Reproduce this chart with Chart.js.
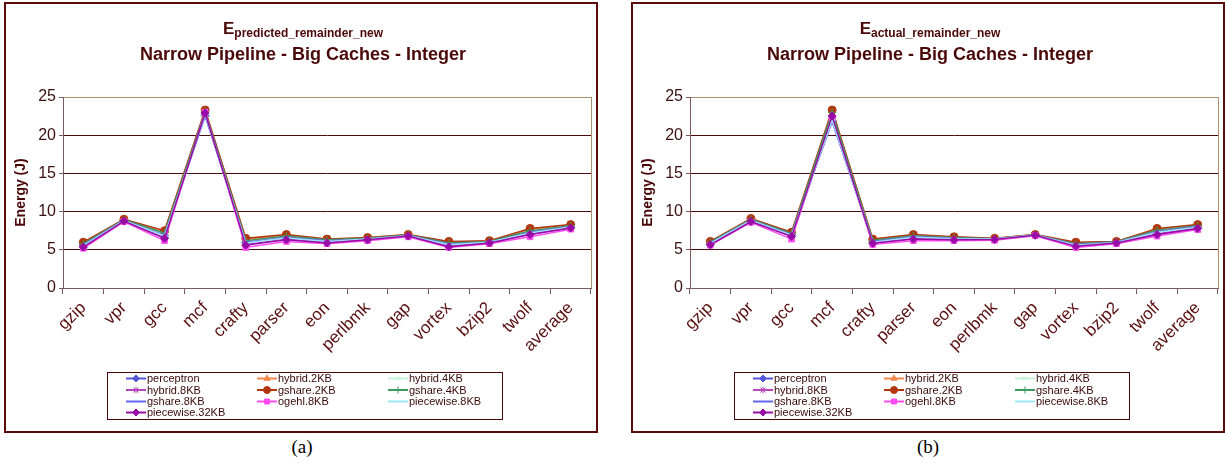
<!DOCTYPE html>
<html>
<head>
<meta charset="utf-8">
<script src="https://cdn.jsdelivr.net/npm/chart.js@4.4.1/dist/chart.umd.min.js"></script>
<style>
  body { margin: 0; background: #fff; width: 1225px; height: 465px; position: relative; overflow: hidden; }
  .panel { position: absolute; top: 2px; width: 590px; height: 427px; border: 2px solid #5a0c0c; }
  .panel canvas { display: block; }
  .cap { position: absolute; top: 436px; width: 100px; text-align: center; font: 19px "Liberation Serif", "Times New Roman", serif; color: #000; }
</style>
</head>
<body>
<div class="panel" style="left:4px"><canvas id="chartA" width="590" height="427"></canvas></div>
<div class="panel" style="left:631px"><canvas id="chartB" width="590" height="427"></canvas></div>
<div class="cap" style="left:252px">(a)</div>
<div class="cap" style="left:878px">(b)</div>
<script>
// benchmarks on the x axis
const categories = ['gzip','vpr','gcc','mcf','crafty','parser','eon','perlbmk','gap','vortex','bzip2','twolf','average'];
const seriesNames = ['perceptron','hybrid.2KB','hybrid.4KB','hybrid.8KB','gshare.2KB','gshare.4KB','gshare.8KB','ogehl.8KB','piecewise.8KB','piecewise.32KB'];
const seriesColors = ['#5656d8','#f4874c','#c4f2d6','#b646bc','#b3360e','#3f9a5e','#6666ee','#ff4cf2','#9ee6f6','#980ca6'];
const seriesMarkers = ['rectRot','triangle','crossRot','star','circle','cross','dash','rect','dash','rectRot'];
const yTicks = [0, 5, 10, 15, 20, 25];

// (a) E predicted_remainder_new, one row per series (same order as seriesNames)
const predicted = [
  [5.6, 8.85, 6.85, 22.6, 5.95, 6.6, 6.15, 6.4, 6.85, 5.7, 6.0, 7.25, 8.0],
  [5.9, 8.97, 7.4, 23.2, 6.4, 6.9, 6.35, 6.55, 6.98, 6.0, 6.15, 7.7, 8.25],
  [5.7, 8.9, 7.05, 23.0, 6.1, 6.7, 6.25, 6.45, 6.9, 5.8, 6.05, 7.4, 8.1],
  [5.45, 8.8, 6.6, 22.8, 5.7, 6.4, 6.0, 6.33, 6.8, 5.5, 5.92, 7.05, 7.9],
  [6.0, 9.0, 7.5, 23.3, 6.5, 7.0, 6.4, 6.6, 7.0, 6.1, 6.2, 7.8, 8.3],
  [5.8, 8.93, 7.2, 23.1, 6.2, 6.8, 6.3, 6.5, 6.95, 5.9, 6.1, 7.5, 8.15],
  [5.65, 8.87, 6.9, 22.5, 6.0, 6.65, 6.2, 6.42, 6.88, 5.75, 6.0, 7.3, 8.05],
  [5.2, 8.7, 6.2, 23.0, 5.3, 6.1, 5.8, 6.2, 6.7, 5.3, 5.8, 6.7, 7.7],
  [5.55, 8.84, 6.8, 22.7, 5.9, 6.55, 6.1, 6.4, 6.85, 5.65, 5.98, 7.2, 8.0],
  [5.35, 8.76, 6.5, 22.9, 5.6, 6.3, 5.9, 6.3, 6.8, 5.4, 5.9, 7.0, 7.85]
];

// (b) E actual_remainder_new
const actual = [
  [5.9, 8.9, 6.95, 21.9, 6.05, 6.7, 6.5, 6.4, 6.93, 5.65, 5.98, 7.35, 8.0],
  [6.05, 9.05, 7.25, 23.2, 6.35, 6.95, 6.65, 6.48, 7.0, 5.9, 6.08, 7.7, 8.25],
  [5.95, 8.95, 7.05, 22.8, 6.2, 6.8, 6.55, 6.42, 6.95, 5.75, 6.0, 7.45, 8.1],
  [5.75, 8.75, 6.8, 22.2, 5.9, 6.45, 6.35, 6.35, 6.9, 5.5, 5.9, 7.1, 7.85],
  [6.1, 9.1, 7.3, 23.3, 6.4, 7.0, 6.7, 6.5, 7.0, 6.0, 6.1, 7.8, 8.3],
  [6.0, 9.0, 7.15, 23.0, 6.25, 6.85, 6.6, 6.45, 6.98, 5.8, 6.05, 7.55, 8.15],
  [5.9, 8.9, 7.0, 21.8, 6.1, 6.75, 6.5, 6.4, 6.95, 5.7, 6.0, 7.4, 8.05],
  [5.6, 8.6, 6.4, 22.3, 5.7, 6.2, 6.2, 6.25, 6.85, 5.3, 5.8, 6.8, 7.65],
  [5.85, 8.85, 6.9, 22.0, 6.0, 6.65, 6.45, 6.4, 6.92, 5.6, 5.95, 7.3, 7.95],
  [5.65, 8.7, 6.75, 22.5, 5.85, 6.4, 6.3, 6.35, 6.9, 5.45, 5.9, 7.0, 7.8]
];

const FONT = 'Arial, "Liberation Sans", sans-serif';

// title with subscript, plot-area right edge, and the boxed 3-column legend
const decor = {
  id: 'decor',
  afterDraw(chart, args, opts) {
    const ctx = chart.ctx;
    const a = chart.chartArea;
    ctx.save();
    ctx.strokeStyle = '#a89070';
    ctx.lineWidth = 1;
    ctx.beginPath();
    ctx.moveTo(Math.round(a.right) + 0.5, a.top);
    ctx.lineTo(Math.round(a.right) + 0.5, a.bottom);
    ctx.stroke();

    ctx.fillStyle = '#4a0808';
    ctx.textBaseline = 'alphabetic';
    ctx.textAlign = 'left';
    ctx.font = 'bold 17px ' + FONT;
    const wE = ctx.measureText('E').width;
    ctx.font = 'bold 12px ' + FONT;
    const wS = ctx.measureText(opts.sub).width;
    let x0 = 297 - (wE + wS) / 2;
    ctx.font = 'bold 17px ' + FONT;
    ctx.fillText('E', x0, 29.5);
    ctx.font = 'bold 12px ' + FONT;
    ctx.fillText(opts.sub, x0 + wE, 33);
    ctx.font = 'bold 18px ' + FONT;
    ctx.textAlign = 'center';
    ctx.fillText('Narrow Pipeline - Big Caches - Integer', 297, 55.5);

    // legend
    ctx.strokeStyle = '#4a0808';
    ctx.lineWidth = 1;
    ctx.strokeRect(101.5, 368.5, 395, 47);
    const lineX = [120, 251, 382];
    const rowY = [374.5, 386, 397.5, 408.5];
    ctx.font = '11px ' + FONT;
    ctx.textAlign = 'left';
    ctx.textBaseline = 'middle';
    seriesNames.forEach((name, i) => {
      const x = lineX[i % 3], y = rowY[Math.floor(i / 3)];
      ctx.strokeStyle = seriesColors[i];
      ctx.fillStyle = seriesColors[i];
      ctx.lineWidth = 2;
      ctx.beginPath();
      ctx.moveTo(x, y);
      ctx.lineTo(x + 20, y);
      ctx.stroke();
      ctx.lineWidth = 1;
      Chart.helpers.drawPoint(ctx, {pointStyle: seriesMarkers[i], radius: 3.5, rotation: 0, borderWidth: 1}, x + 10, y);
      ctx.fillStyle = '#3a0808';
      ctx.fillText(name, x + 21, y + 0.5);
    });
    ctx.restore();
  }
};

function draw(id, rows, sub) {
  const datasets = seriesNames.map((name, i) => ({
    label: name,
    data: rows[i],
    borderColor: seriesColors[i],
    backgroundColor: seriesColors[i],
    borderWidth: 1.5,
    pointStyle: seriesMarkers[i],
    pointRadius: 4,
    pointBorderWidth: 1,
    order: seriesNames.length - i
  }));
  new Chart(document.getElementById(id), {
    type: 'line',
    data: { labels: categories, datasets: datasets },
    plugins: [decor],
    options: {
      responsive: false,
      animation: false,
      devicePixelRatio: 1,
      layout: { padding: { top: 93, right: 2, bottom: 73, left: 0 } },
      plugins: {
        legend: { display: false },
        tooltip: { enabled: false },
        decor: { sub: sub }
      },
      scales: {
        x: {
          offset: true,
          afterFit: s => { s.height = 70; },
          grid: { offset: true, drawOnChartArea: false, tickLength: 6, color: '#7a5a5a', tickColor: '#7a5a5a' },
          border: { color: '#7a5a5a', width: 1 },
          ticks: {
            autoSkip: false, minRotation: 45, maxRotation: 45, padding: 4,
            color: '#5a1010', font: { family: FONT, size: 17 }
          }
        },
        y: {
          min: 0, max: 25,
          afterFit: s => { s.width = 57; },
          afterBuildTicks: s => { s.ticks = yTicks.map(v => ({ value: v })); },
          grid: {
            color: c => (c.tick && c.tick.value === 25) ? '#a89070' : '#4a0c0c',
            tickColor: '#7a5a5a', tickLength: 4, lineWidth: 1
          },
          border: { color: '#7a5a5a', width: 1 },
          ticks: { color: '#3a1010', padding: 3, font: { family: FONT, size: 16 } },
          title: {
            display: true, text: 'Energy (J)', color: '#4a0808',
            font: { family: FONT, size: 14, weight: 'bold' },
            padding: { top: 7, bottom: 0 }
          }
        }
      }
    }
  });
}

draw('chartA', predicted, 'predicted_remainder_new');
draw('chartB', actual, 'actual_remainder_new');
</script>
</body>
</html>
